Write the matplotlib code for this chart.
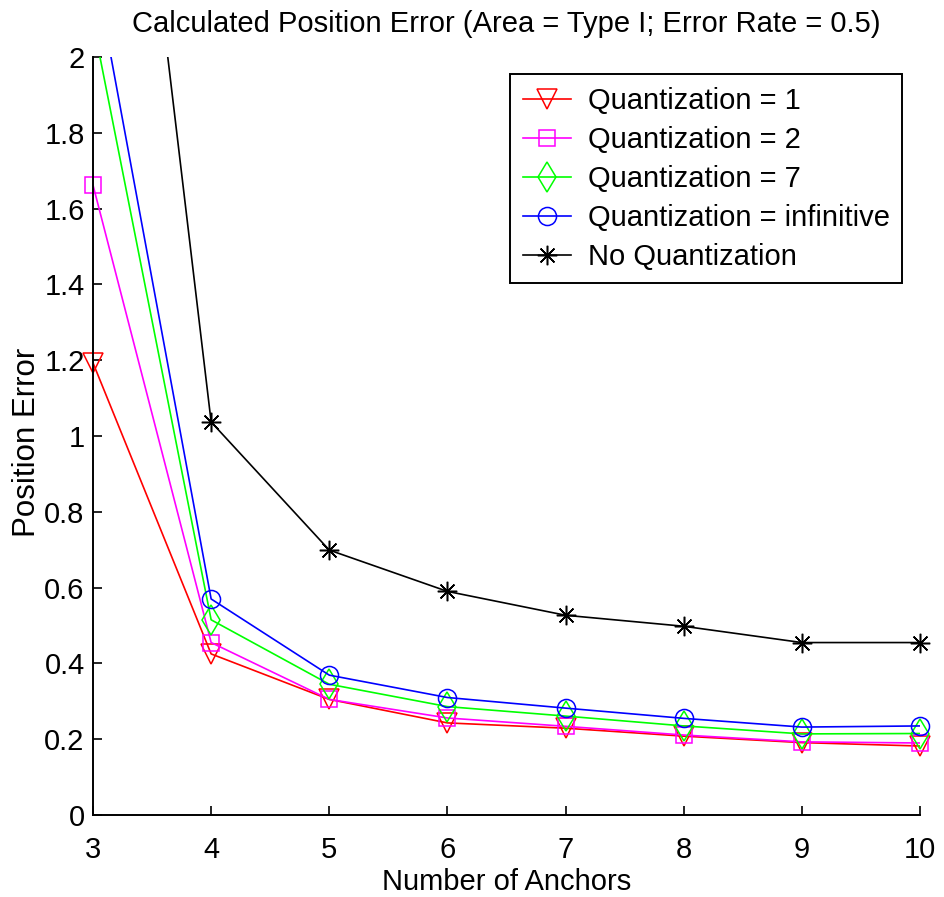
import matplotlib
matplotlib.use("Agg")
import numpy as np
import matplotlib.pyplot as plt
from matplotlib.ticker import FixedLocator, FuncFormatter
from matplotlib.lines import Line2D

# Number of anchors on the x axis
anchors = [3, 4, 5, 6, 7, 8, 9, 10]

# Mean position error for each quantization setting
err_q1 = [1.193, 0.425, 0.305, 0.243, 0.229, 0.208, 0.191, 0.182]
err_q2 = [1.662, 0.455, 0.305, 0.256, 0.234, 0.211, 0.193, 0.190]
err_q7 = [2.093, 0.515, 0.345, 0.286, 0.261, 0.235, 0.214, 0.215]
err_qinf = [2.257, 0.570, 0.369, 0.310, 0.282, 0.255, 0.232, 0.235]
err_noq = [3.660, 1.037, 0.699, 0.590, 0.527, 0.498, 0.455, 0.455]

series_labels = [
    "Quantization = 1",
    "Quantization = 2",
    "Quantization = 7",
    "Quantization = infinitive",
    "No Quantization",
]

y_ticks = [0, 0.2, 0.4, 0.6, 0.8, 1.0, 1.2, 1.4, 1.6, 1.8, 2.0]
y_max = 2.0

plt.rcParams["font.family"] = ["Liberation Sans", "DejaVu Sans"]
FS = 21

fig = plt.figure(figsize=(9.45, 8.97), dpi=100)
ax = fig.add_axes([93 / 945, 1 - 815 / 897, 827 / 945, (815 - 57) / 897])

asterisk = (8, 2, 0)
styles = [
    dict(color="#ff0000", marker="v", ms=14),
    dict(color="#ff00ff", marker="s", ms=11),
    dict(color="#00ff00", marker="d", ms=15),
    dict(color="#0000ff", marker="o", ms=13),
    dict(color="#000000", marker=asterisk, ms=14),
]
data = [err_q1, err_q2, err_q7, err_qinf, err_noq]

handles = []
for vals, st, lab in zip(data, styles, series_labels):
    x = np.asarray(anchors, dtype=float)
    y = np.asarray(vals, dtype=float)
    # connecting line, clipped to the axes
    ax.plot(x, y, color=st["color"], linewidth=1.2)
    # markers drawn unclipped so the ones on the axis edges stay whole
    inside = y <= y_max
    ax.plot(x[inside], y[inside], linestyle="none", marker=st["marker"],
            markersize=st["ms"], markerfacecolor="none",
            markeredgecolor=st["color"], markeredgewidth=1.1, clip_on=False)
    handles.append(Line2D([], [], color=st["color"], linewidth=1.2,
                          marker=st["marker"], markersize=st["ms"],
                          markerfacecolor="none", markeredgecolor=st["color"],
                          markeredgewidth=1.1, label=lab))

ax.set_xlim(3, 10)
ax.set_ylim(0, y_max)
ax.xaxis.set_major_locator(FixedLocator(anchors))
ax.yaxis.set_major_locator(FixedLocator(y_ticks))
ax.yaxis.set_major_formatter(FuncFormatter(lambda v, p: "%g" % v))

for side in ("top", "right"):
    ax.spines[side].set_visible(False)
for side in ("left", "bottom"):
    ax.spines[side].set_linewidth(1.4)

ax.tick_params(axis="both", direction="in", length=6.5, width=1.2,
               labelsize=FS, colors="black")
ax.tick_params(axis="x", pad=15)
ax.tick_params(axis="y", pad=6)

ax.set_xlabel("Number of Anchors", fontsize=FS, labelpad=3)
ax.set_ylabel("Position Error", fontsize=22.5)
ax.yaxis.set_label_coords(-0.062, 0.492)
ax.set_title("Calculated Position Error (Area = Type I; Error Rate = 0.5)",
             fontsize=FS, pad=18)

leg = ax.legend(handles=handles, loc="upper right", fontsize=FS, frameon=True,
                fancybox=False, borderaxespad=0.6, handlelength=1.65,
                handletextpad=0.6, labelspacing=0.38, borderpad=0.42)
frame = leg.get_frame()
frame.set_edgecolor("black")
frame.set_linewidth(1.4)
frame.set_alpha(1)

fig.savefig("out.png", dpi=100)
